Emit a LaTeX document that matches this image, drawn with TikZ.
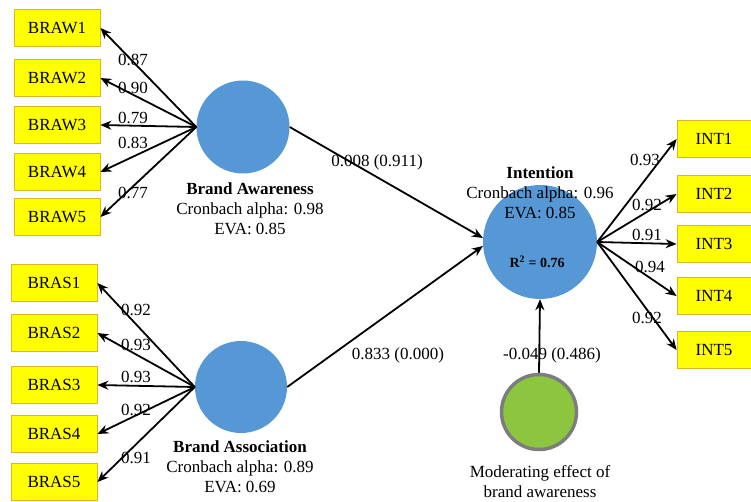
\documentclass[tikz,border=0pt]{standalone}
\usepackage{fontspec}
\setmainfont{Liberation Serif}
\newfontfamily\diagfont{Liberation Serif}
\usetikzlibrary{arrows.meta}
\definecolor{lvblue}{RGB}{86,152,214}
\definecolor{boxyellow}{RGB}{255,255,0}
\definecolor{boxedge}{RGB}{222,180,40}
\definecolor{modgreen}{RGB}{140,198,63}
\definecolor{modgray}{RGB}{125,125,125}

\begin{document}
\begin{tikzpicture}[x=1pt,y=-1pt,
  ind/.style={draw=boxedge,fill=boxyellow,line width=0.8pt,minimum width=86pt,minimum height=37pt,inner sep=0pt,font=\diagfont\fontsize{17}{20}\selectfont},
  lv/.style={circle,fill=lvblue,inner sep=0pt},
  lbl/.style={inner sep=0pt,font=\diagfont\fontsize{17}{20}\selectfont},
  info/.style={inner sep=0pt,align=center,font=\diagfont\fontsize{17}{20}\selectfont},
  arr/.style={-{Stealth[length=11pt,width=9pt]},line width=1.8pt}]

\useasboundingbox (0,0) rectangle (751,502);

% brand awareness block
\node[ind] (braw1) at (57,28) {BRAW1};
\node[ind] (braw2) at (57,78) {BRAW2};
\node[ind] (braw3) at (57,125) {BRAW3};
\node[ind] (braw4) at (57,172) {BRAW4};
\node[ind] (braw5) at (57,217) {BRAW5};
\node[lv,minimum size=93pt] (ba) at (243,127) {};
\node[info] (bainfo) at (250,209) {\textbf{Brand Awareness}\\Cronbach alpha: 0.98\\EVA: 0.85};

% brand association block
\node[ind] (bras1) at (54,283) {BRAS1};
\node[ind] (bras2) at (54,333) {BRAS2};
\node[ind] (bras3) at (54,385) {BRAS3};
\node[ind] (bras4) at (54,434) {BRAS4};
\node[ind] (bras5) at (54,482) {BRAS5};
\node[lv,minimum size=92pt] (bas) at (241,387) {};
\node[info] (basinfo) at (240,467) {\textbf{Brand Association}\\Cronbach alpha: 0.89\\EVA: 0.69};

% intention block
\node[lv,minimum size=114pt] (ints) at (540,242) {};
\node[info] (intsinfo) at (540,193) {\textbf{Intention}\\Cronbach alpha: 0.96\\EVA: 0.85};
\node[lbl,font=\diagfont\bfseries\fontsize{14}{16}\selectfont] (rsq) at (537,262) {R\textsuperscript{2} = 0.76};
\node[ind,minimum width=74pt] (int1) at (714,139) {INT1};
\node[ind,minimum width=74pt] (int2) at (714,194) {INT2};
\node[ind,minimum width=74pt] (int3) at (714,244) {INT3};
\node[ind,minimum width=74pt] (int4) at (714,296) {INT4};
\node[ind,minimum width=74pt] (int5) at (714,350) {INT5};

% moderator
\node[circle,fill=modgreen,draw=modgray,line width=3.5pt,minimum size=75pt,inner sep=0pt] (mod) at (539,412) {};
\node[info] (modinfo) at (540,482) {Moderating effect of\\brand awareness};

\draw[arr] (ba.west) -- (braw1.east);   % 0.87
\draw[arr] (ba.west) -- (braw2.east);
\draw[arr] (ba.west) -- (braw3.east);
\draw[arr] (ba.west) -- (braw4.east);
\draw[arr] (ba.west) -- (braw5.east);

\draw[arr] (bas.west) -- (bras1.east);  % 0.92
\draw[arr] (bas.west) -- (bras2.east);
\draw[arr] (bas.west) -- (bras3.east);
\draw[arr] (bas.west) -- (bras4.east);
\draw[arr] (bas.west) -- (bras5.east);

\draw[arr] (ints.east) -- (int1.west);  % 0.93
\draw[arr] (ints.east) -- (int2.west);
\draw[arr] (ints.east) -- (int3.west);
\draw[arr] (ints.east) -- (int4.west);
\draw[arr] (ints.east) -- (int5.west);

\draw[arr] (ba.east) -- (ints.176);     % paths
\draw[arr] (bas.east) -- (ints.184);
\draw[arr] (mod.north) -- (ints.south);

% loadings
\node[lbl] (l1) at (133,60) {0.87};
\node[lbl] (l2) at (133,88) {0.90};
\node[lbl] (l3) at (133,118) {0.79};
\node[lbl] (l4) at (133,143) {0.83};
\node[lbl] (l5) at (133,193) {0.77};

\node[lbl] (m1) at (136,310) {0.92};
\node[lbl] (m2) at (136,345) {0.93};
\node[lbl] (m3) at (136,377) {0.93};
\node[lbl] (m4) at (136,410) {0.92};
\node[lbl] (m5) at (136,458) {0.91};

\node[lbl] (n1) at (645,160) {0.93};
\node[lbl] (n2) at (647,205) {0.92};
\node[lbl] (n3) at (647,235) {0.91};
\node[lbl] (n4) at (650,267) {0.94};
\node[lbl] (n5) at (647,318) {0.92};

% path coefficients
\node[lbl] (p1) at (377,162) {0.008 (0.911)};
\node[lbl] (p2) at (398,355) {0.833 (0.000)};
\node[lbl] (p3) at (552,355) {-0.049 (0.486)};

\end{tikzpicture}
\end{document}
